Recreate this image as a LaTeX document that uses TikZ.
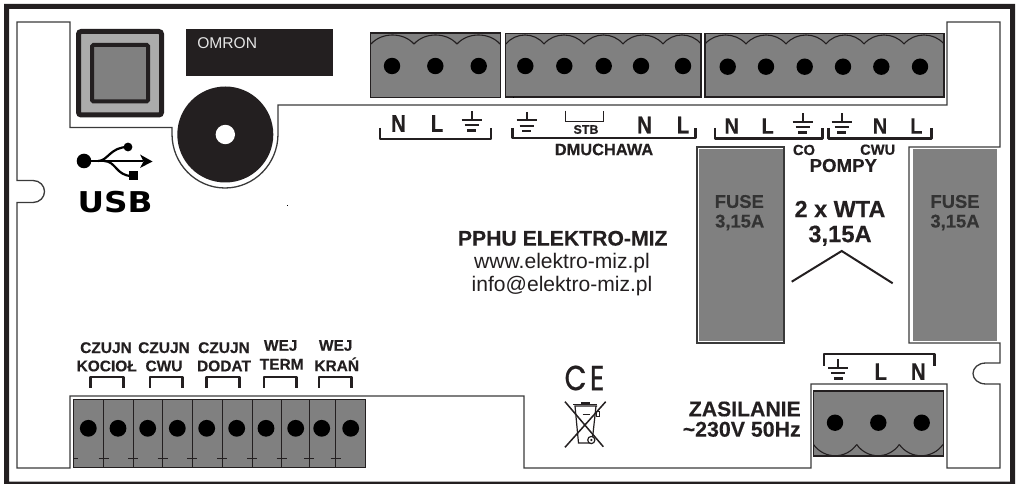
\documentclass[tikz,border=0pt]{standalone}
\usepackage{fontspec}
\setmainfont[BoldFeatures={FakeBold=0.35},Ligatures=TeX]{Liberation Sans}
\newfontfamily\usbfont{DejaVu Sans}
\newfontfamily\cefont[FakeBold=0.9]{Poppins}
\newcommand{\fsz}[1]{\fontsize{#1}{#1}\selectfont}
\definecolor{ink}{HTML}{231F20}
\definecolor{term}{HTML}{808080}
\definecolor{edge}{HTML}{3A3A3A}
\definecolor{fusetext}{HTML}{333333}
\tikzset{
  px/.style={line width=#1*.75pt},
  outline/.style={draw=edge,px=1.3,line join=miter},
  block/.style={fill=term,draw=ink,px=1.3},
  scallop/.style={draw=ink,px=1.1},
  hole/.style={fill=black},
  brk/.style={draw=ink,px=2.5,line join=round},
  gndline/.style={draw=ink,px=2},
  mid/.style={font=\bfseries\fsz{11.6},text=ink,inner sep=0pt},
  head/.style={font=\bfseries\fsz{#1},text=ink,inner sep=0pt},
  plain/.style={font=\fsz{#1},text=ink,inner sep=0pt},
  fuselab/.style={font=\bfseries\fsz{13.8},text=fusetext,inner sep=0pt},
  fusebox/.style={fill=term},
}
\newcommand{\gnd}[2]{%
  \draw[gndline] (#1,#2-8.5) -- (#1,#2)
    (#1-10,#2) -- (#1+10,#2)
    (#1-7,#2+5.5) -- (#1+7,#2+5.5);
  \draw[draw=ink,px=2.5] (#1-4.5,#2+10.5) -- (#1+4.5,#2+10.5);}
\begin{document}
\begin{tikzpicture}[x=.75pt,y=-.75pt]
\useasboundingbox (0,0) rectangle (1017,484);
% frame
\fill[ink,even odd rule] (4,4) rectangle (1015,484) (9,9) rectangle (1010,481.5);
% board outline
\draw[outline] (17,22) -- (70,22) -- (70,127.5) -- (172,127.5) -- (172,134)
  .. controls (172,163.8) and (195.7,188) .. (225,188)
  .. controls (254.3,188) and (278,163.8) .. (278,134)
  -- (278,105) -- (947,105) -- (947,22) -- (1000,22) -- (1000,147) -- (909,147)
  -- (909,343) -- (1000,343) -- (1000,363) -- (986,363)
  .. controls (978,363) and (973,368) .. (973,373.5)
  .. controls (973,379) and (978,384) .. (986,384)
  -- (1000,384) -- (1000,468) -- (947,468) -- (947,384) -- (811,384) -- (811,468)
  -- (524,468) -- (524,396) -- (70,396) -- (70,468) -- (17,468) -- (17,202.5) -- (33,202.5)
  .. controls (40,202.5) and (44.5,197) .. (44.5,191.5)
  .. controls (44.5,186) and (40,180.5) .. (33,180.5)
  -- (17,180.5) -- cycle;
% button
\draw[fill=black!33,draw=ink,px=5,rounded corners=2pt] (78.5,31.5) rectangle (161.5,115);
\draw[fill=term,draw=ink,px=4,rounded corners=1pt] (92,45) rectangle (148,101.5);
% omron
\fill[ink] (186,29) rectangle (333,76);
\node[font=\fsz{11.7},text=black!10,inner sep=0pt,anchor=west] (omron) at (197,43.5) {OMRON};
% knob
\fill[ink] (225.3,134.5) circle[radius=48];
\fill[white] (225.3,134.5) circle[radius=9.7];
% usb
\fill[black] (84,161) circle[radius=7.3];
\draw[black,px=2.2] (84,161) -- (143,161);
\fill[black] (140,154.5) -- (152.5,161.5) -- (140,168) -- (143.5,161.5) -- cycle;
\draw[black,px=2.2] (98,161) .. controls (108,161) and (110,147) .. (128,147);
\fill[black] (128,147) circle[radius=4.4];
\draw[black,px=2.2] (104,161) .. controls (116,161) and (116,176) .. (132,176);
\fill[black] (128.5,171.5) rectangle (138,180.5);
\node[font=\usbfont\bfseries\fsz{21.5},text=black,inner sep=0pt] (usb) at (115,202) {\scalebox{1.14}[1]{USB}};
% top terminal blocks
\draw[block] (370.5,33) rectangle (500.5,97.5);
\draw[block] (505.5,33.5) rectangle (701,97);
\draw[block] (705,33.5) rectangle (944,97);
\foreach \a/\b in {371/414,414/457,457/500,506/544,544/584,584/623,623/663,663/701,705/746,746/786,786/826,826/864,864/904,904/944}
  \draw[scallop] (\a,44) .. controls ({\a+.25*(\b-\a)},32) and ({\b-.25*(\b-\a)},32) .. (\b,44);
\foreach \x in {392,435.3,478.7,525.3,564.3,603.7,641,683}
  \fill[hole] (\x,66) circle[radius=8.2];
\foreach \x in {727.7,766,804.7,843,881.3,920}
  \fill[hole] (\x,66.7) circle[radius=8.2];
\fill[black] (512.5,97) rectangle (514,98.5);
\fill[black] (287,205) rectangle (288,206);
% labels under block 1
\draw[brk] (380,128) -- (380,139) -- (491,139) -- (491,128);
\node[head=18,xscale=.85,transform shape] (t1n) at (398.5,123.5) {N};
\node[head=18,xscale=.85,transform shape] (t1l) at (437,123.5) {L};
\gnd{471.7}{120}
% block 2
\draw[brk] (512.7,128) -- (512.7,138) -- (695.7,138) -- (695.7,128);
\gnd{526.7}{120.5}
\draw[draw=ink,px=1.2] (565.7,110.7) -- (565.7,121.7) -- (603.7,121.7) -- (603.7,110.7);
\node[head=9.3] (stb) at (586,129.5) {STB};
\node[head=18,xscale=.85,transform shape] (t2n) at (644.5,125) {N};
\node[head=18,xscale=.85,transform shape] (t2l) at (683,125) {L};
\node[head=12.3] (dmu) at (604,149.5) {DMUCHAWA};
% block 3
\draw[brk] (715,128) -- (715,138.7) -- (822.3,138.7) -- (822.3,128);
\draw[brk] (828.3,128) -- (828.3,138.7) -- (931.7,138.7) -- (931.7,128);
\node[head=16.5,xscale=.9,transform shape] (t3n) at (731.7,126) {N};
\node[head=16.5,xscale=.9,transform shape] (t3l) at (767.7,126) {L};
\gnd{802.7}{122}
\gnd{841.7}{122}
\node[head=16.5,xscale=.9,transform shape] (t4n) at (880,126) {N};
\node[head=16.5,xscale=.9,transform shape] (t4l) at (916.3,126) {L};
\node[head=11] (co) at (804,150) {CO};
\node[head=11] (cwu) at (877.7,149.7) {CWU};
\node[head=14] (pompy) at (843.3,165.5) {POMPY};
% fuses
\draw[outline,fill=white] (697,147) rectangle (784,343);
\fill[fusebox] (699,149) rectangle (783,341);
\fill[fusebox] (912.7,149) rectangle (997,341.5);
\node[fuselab] (f1a) at (739.3,201.5) {FUSE};
\node[fuselab] (f1b) at (739.7,222.5) {3,15A};
\node[fuselab] (f2a) at (955,201.5) {FUSE};
\node[fuselab] (f2b) at (955,222.5) {3,15A};
\node[head=17.6] (wta) at (840,209) {2 x WTA};
\node[head=17.8] (wtb) at (840,235.7) {3,15A};
\draw[draw=ink,px=2] (791.7,281.7) -- (841.7,251) -- (892.7,283.3);
% company
\node[head=15.9] (ppu) at (562.7,238.3) {PPHU ELEKTRO-MIZ};
\node[plain=15.8] (www) at (562,263.3) {www.elektro-miz.pl};
\node[plain=15.8] (info) at (562,286) {info@elektro-miz.pl};
% bottom terminal
\fill[term] (73.3,399.3) rectangle (365,467.7);
\draw[draw=ink,px=1] (73.3,399.3) rectangle (365,467.7);
\foreach \x in {103.7,133.3,162.7,192.3,222.3,252.3,281.7,309.3,335.7} {
  \draw[draw=ink,px=1.1] (\x,399.3) -- (\x,467.7);
  \draw[draw=ink,px=1.2] (\x-5,458.3) -- (\x+5,458.3);
}
\draw[draw=ink,px=1.2] (73.3,458.3) -- (78,458.3);
\foreach \x in {88.3,118,147.7,177.3,206.7,236.7,266,295.7,321.7,350.7}
  \fill[hole] (\x,428.3) circle[radius=8.4];
\foreach \a/\b in {90.7/123.3,150/182.3,206.7/239.3,264/296.7,319/351.7}
  \draw[brk] (\a,387.7) -- (\a,377) -- (\b,377) -- (\b,387.7);
\node[mid] (c1a) at (106,347.7) {CZUJN};
\node[mid] (c1b) at (106.7,366) {KOCIOŁ};
\node[mid] (c2a) at (164,347.7) {CZUJN};
\node[mid] (c2b) at (164,366) {CWU};
\node[mid] (c3a) at (224,347.7) {CZUJN};
\node[mid] (c3b) at (224,366) {DODAT};
\node[mid] (c4a) at (280.7,345.5) {WEJ};
\node[mid] (c4b) at (281.7,364.3) {TERM};
\node[mid] (c5a) at (335.7,345.5) {WEJ};
\node[mid] (c5b) at (336.7,364.3) {KRAŃ};
% CE and bin
\node[font=\cefont\fsz{26},text=ink,inner sep=0pt,xscale=.82,transform shape] (ce) at (584.5,378) {C\kern 3pt E};
\draw[draw=ink,px=1.5] (565,401.7) -- (603.3,446.7) (605.7,401.7) -- (565,447.3);
\draw[draw=ink,px=1.2] (574.3,406) -- (597,406) (575,406) -- (578.5,443) -- (592,443) -- (596,406);
\draw[draw=ink,px=1.8] (573,404.5) -- (597,404.5);
\fill[ink] (581,401.5) rectangle (590,404);
\draw[draw=ink,px=1.5] (582.5,414.5) -- (590,414.5);
\draw[draw=ink,px=1] (596,411) rectangle (599.5,416);
\draw[draw=ink,px=1.2,fill=white] (591.3,440) circle[radius=3.6];
\fill[ink] (591.3,440) circle[radius=1.2];
% power terminal
\draw[block] (813.3,391) rectangle (943.3,456);
\foreach \a/\b in {813.5/856.7,856.7/899.3,899.3/943}
  \draw[scallop] (\a,444.5) .. controls ({\a+.25*(\b-\a)},459.5) and ({\b-.25*(\b-\a)},459.5) .. (\b,444.5);
\foreach \x in {835,878.3,921.7}
  \fill[hole] (\x,422.7) circle[radius=8.2];
\draw[brk] (824,365.7) -- (824,354) -- (934.3,354) -- (934.3,365.7);
\gnd{838.3}{368}
\node[head=18,xscale=.85,transform shape] (pl) at (880.7,371.7) {L};
\node[head=18,xscale=.85,transform shape] (pn) at (918.3,371.7) {N};
\node[head=15.9,anchor=east] (zas) at (801,409) {ZASILANIE};
\node[head=16,anchor=east] (volt) at (801,429.3) {\textasciitilde 230V 50Hz};
\end{tikzpicture}
\end{document}
